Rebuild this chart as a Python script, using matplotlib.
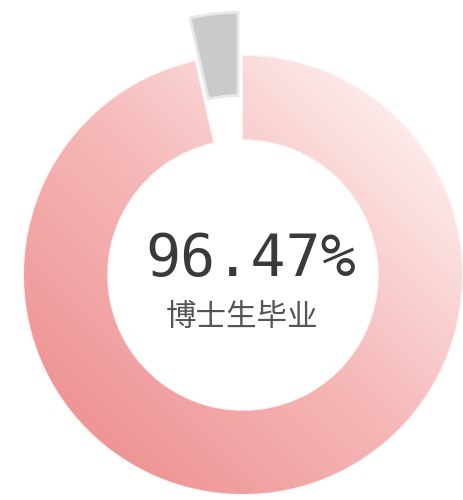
import numpy as np
import matplotlib

matplotlib.use("Agg")
import matplotlib.pyplot as plt
from matplotlib.colors import LinearSegmentedColormap

# data
labels = ["博士生毕业", "其他"]
values = [96.47, 3.53]
center_value = "96.47%"
center_label = "博士生毕业"

PX_PER_UNIT = 219
CX, CY = 243, 225  # ring centre in figure pixels (from bottom-left)
W, H = 464, 500

GRAD_DARK = "#ee9393"
GRAD_LIGHT = "#fdecec"
GRAY = "#c9cacb"
TEXT_DARK = "#3a3a3a"
TEXT_MID = "#555555"

fig = plt.figure(figsize=(W / 100, H / 100), dpi=100)
ax = fig.add_axes([0, 0, 1, 1])
ax.axis("off")

wedges, _ = ax.pie(
    values,
    startangle=90,
    counterclock=False,
    explode=[0, 0.2],
    radius=1,
    colors=["#f4b0b0", GRAY],
    wedgeprops=dict(width=0.38, linewidth=2),
)
wedges[0].set_edgecolor("#fff4f4")
wedges[1].set_edgecolor("#e8e8e8")

# diagonal gradient, dark bottom-left -> light top-right, clipped to the main wedge
cmap = LinearSegmentedColormap.from_list("ring", [GRAD_DARK, "#f6b8b8", GRAD_LIGHT])
gx, gy = np.meshgrid(np.linspace(-1, 1, 300), np.linspace(-1, 1, 300))
grad = (gx + gy) / 2
im = ax.imshow(grad, extent=(-1, 1, -1, 1), origin="lower", cmap=cmap,
               vmin=-0.75, vmax=0.75, interpolation="bilinear", zorder=2)
im.set_clip_path(wedges[0])
wedges[1].set_zorder(3)

ax.set_aspect("auto")
ax.set_xlim(-CX / PX_PER_UNIT, (W - CX) / PX_PER_UNIT)
ax.set_ylim(-CY / PX_PER_UNIT, (H - CY) / PX_PER_UNIT)

ax.text(0.037, 0.073, center_value, ha="center", va="center", fontsize=42,
        family=["DejaVu Sans Mono"], color=TEXT_DARK, zorder=5)
ax.text(-0.005, -0.196, center_label, ha="center", va="center", fontsize=22,
        family=["Noto Sans CJK SC", "DejaVu Sans"], color=TEXT_MID, zorder=5)

fig.savefig("out.png", dpi=100, facecolor="white")
plt.close(fig)
